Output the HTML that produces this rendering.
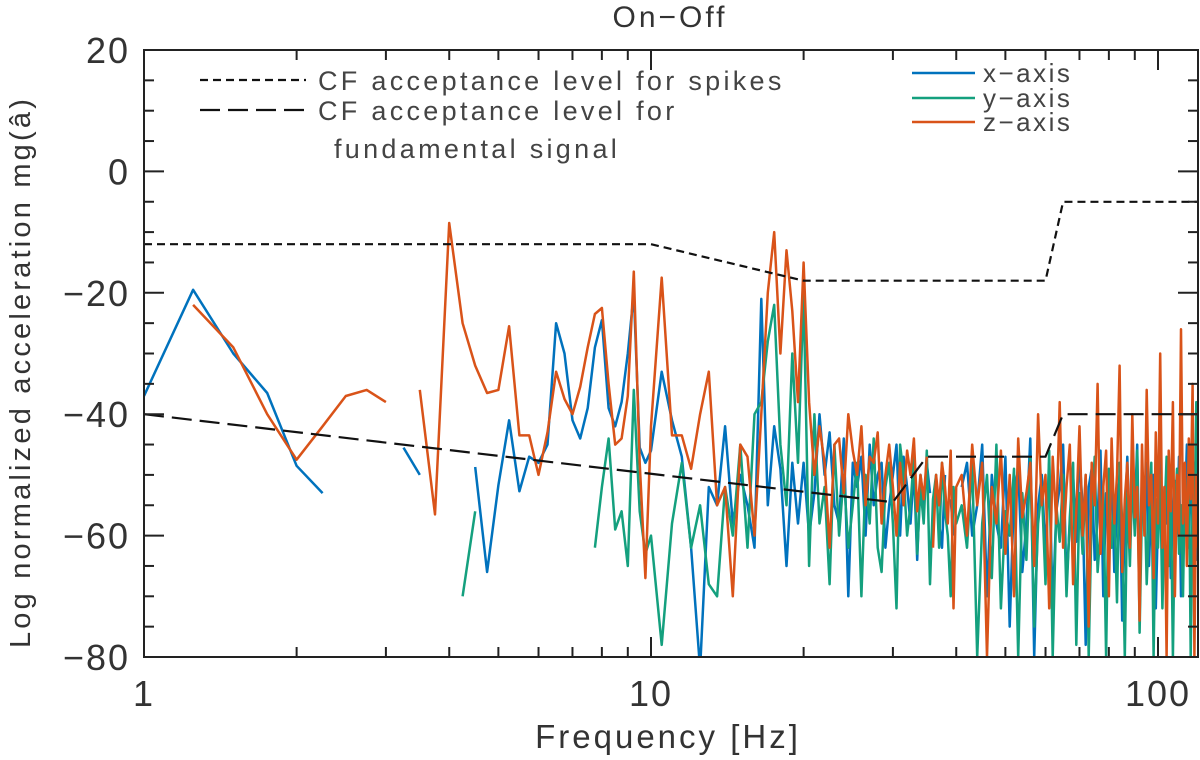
<!DOCTYPE html>
<html><head><meta charset="utf-8"><style>
html,body{margin:0;padding:0;background:#fff;}
svg{display:block;font-family:"Liberation Sans",sans-serif;}
</style></head><body>
<svg id="chart" width="1200" height="760" viewBox="0 0 1200 760">
<defs><clipPath id="clip"><rect x="144" y="50" width="1054" height="607"/></clipPath></defs>
<text x="670" y="27" text-anchor="middle" font-size="30" letter-spacing="3" fill="#333">On−Off</text>
<g id="series" clip-path="url(#clip)"></g>
<rect x="144" y="50" width="1054" height="607" fill="none" stroke="#222" stroke-width="2"/>
<g id="axes"></g>
<text x="668" y="748" text-anchor="middle" font-size="33" letter-spacing="3" fill="#333">Frequency [Hz]</text>
<text transform="translate(30,372) rotate(-90)" text-anchor="middle" font-size="29" letter-spacing="3.2" fill="#333">Log normalized acceleration mg(â)</text>
<g>
<line x1="200" y1="80" x2="306" y2="80" stroke="#111" stroke-width="2.2" stroke-dasharray="8,5"/>
<text x="318" y="90" font-size="27" letter-spacing="3.3" fill="#444">CF acceptance level for spikes</text>
<line x1="200" y1="110" x2="306" y2="110" stroke="#111" stroke-width="2.2" stroke-dasharray="20,8"/>
<text x="318" y="120" font-size="27" letter-spacing="3.3" fill="#444">CF acceptance level for</text>
<text x="334" y="158" font-size="27" letter-spacing="3.3" fill="#444">fundamental signal</text>
<line x1="912" y1="73" x2="975" y2="73" stroke="#0072BD" stroke-width="2.5"/>
<text x="983" y="82" font-size="26" letter-spacing="2.5" fill="#444">x−axis</text>
<line x1="912" y1="98" x2="975" y2="98" stroke="#14A07E" stroke-width="2.5"/>
<text x="983" y="107" font-size="26" letter-spacing="2.5" fill="#444">y−axis</text>
<line x1="912" y1="122" x2="975" y2="122" stroke="#D95319" stroke-width="2.5"/>
<text x="983" y="131" font-size="26" letter-spacing="2.5" fill="#444">z−axis</text>
</g>
</svg>
<script>
const freqLow = []; for (let f = 1; f <= 10.001; f += 0.25) freqLow.push(+f.toFixed(2));
const freqMid = []; for (let f = 10.5; f <= 40.001; f += 0.5) freqMid.push(+f.toFixed(2));
const freqHigh = []; for (let f = 41; f <= 120; f += 1) freqHigh.push(f);
const freqs = freqLow.concat(freqMid, freqHigh);

const xAxisLow = [-37,-19.5,-30,-36.5,-48.5,-53,null,null,null,-45.5,-50,null,null,null,-48.7,-66,-51.7,-41,-52.7,-47,-48,-45,-25,-30,-41,-44,-39,-29,-24.5,-39,-42,-38,-30,-20,-45.5,-48,-46];
const xAxisMid = [-33,-41,-47,-62,-82,-52,-55,-42,-58,-50,-55,-62,-21,-55,-42,-49,-65,-48,-58,-48,-60,-53,-40,-50,-43,-55,-58,-44,-70,-48,-52,-47,-60,-45,-55,-50,-48,-62,-55,-50,-45,-60,-47,-52,-58,-49,-64,-50,-55,-48,-53,null,null,-58,-62,-50,null,-54,-60,null];
const xAxisHigh = [-52,-48,-60,-55,-45,-70,-50,-58,-62,-47,-75,-53,-49,-66,-58,-44,-80,-55,-50,-63,-48,-72,-56,-52,-45,-68,-58,-50,-61,-47,-55,-78,-52,-49,-64,-57,-46,-70,-53,-60,-48,-66,-55,-50,-74,-58,-47,-62,-52,-56,-45,-69,-51,-59,-48,-65,-54,-50,-72,-57,-46,-63,-52,-58,-49,-67,-55,-51,-60,-47,-70,-53,-56,-45,-62,-50,-58,-48,-64,-52];

const yAxisLow = [null,null,null,null,null,null,null,null,null,null,null,null,null,-70,-56,null,null,null,null,null,null,null,null,null,null,null,null,-62,-52,-44,-59,-56,-65,-36,-56,-63,-60];
const yAxisMid = [-78,-58,-48,-62,-55,-68,-70,-52,-60,-45,-62,-40,-38,-28,-22,-45,-55,-30,-48,-20,-65,-40,-58,-52,-68,-45,-60,-50,-62,-55,-48,-70,-50,-58,-44,-62,-66,-52,-48,-58,-72,-45,-50,-60,-55,-47,-63,-52,-58,-46,-68,-54,-50,-62,-48,-56,-60,-70,-52,-58];
const yAxisHigh = [-55,-62,-48,-80,-58,-50,-67,-45,-72,-56,-60,-49,-80,-53,-64,-47,-75,-58,-52,-68,-46,-80,-55,-61,-50,-70,-57,-48,-78,-53,-63,-50,-80,-56,-47,-66,-59,-52,-80,-49,-62,-55,-71,-48,-58,-80,-53,-65,-50,-60,-46,-76,-55,-51,-68,-58,-48,-80,-54,-62,-50,-72,-57,-47,-65,-52,-80,-56,-49,-63,-55,-70,-51,-59,-46,-80,-54,-61,-38,-58];

const zAxisLow = [null,-22,-29,-40,-47.5,-42,-37,-36,-38,null,-36,-56.5,-8.5,-25,-32,-36.5,-36,-25.5,-43.5,-43.5,-50,-43,-33,-37.5,-40,-35.5,-29,-23.5,-22.5,-35,-45,-44,-37,-16.5,-48,-67,-42];
const zAxisMid = [-17.5,-43.5,-43.5,-49,-40,-33,-55,-52,-70,-45,-47,-60,-40,-20,-10,-30,-13,-23,-38,-15,-38,-50,-42,-48,-62,-45,-44,-53,-40,-46,-50,-42,-55,-47,-48,-43,-58,-50,-45,-52,-60,-48,-55,-46,-50,-44,-56,-50,-54,-47,null,-62,-50,-55,-48,-52,-58,-46,-72,-52];
const zAxisHigh = [-50,-60,-45,-55,-48,-80,-52,-58,-46,-63,-50,-70,-44,-57,-53,-48,-65,-40,-55,-50,-72,-47,-58,-38,-62,-52,-45,-68,-56,-42,-60,-50,-75,-48,-55,-35,-63,-52,-46,-70,-44,-58,-50,-32,-66,-54,-48,-62,-40,-57,-52,-74,-45,-60,-36,-55,-50,-67,-43,-58,-30,-62,-52,-80,-46,-56,-38,-70,-50,-60,-26,-58,-48,-65,-44,-54,-35,-80,-50,-62];

const spikeFreq = [1,10,20,60,65,120];
const spikeLevel = [-12,-12,-18,-18,-5,-5];
const fundFreq = [1,30,35,60,65,120];
const fundLevel = [-40,-54.5,-47,-47,-40,-40];

const yTicks = [20,0,-20,-40,-60,-80];
const xTicks = [1,10,100];

const NS = 'http://www.w3.org/2000/svg';
const X = f => 144 + 507 * Math.log10(f);
const Y = v => 50 + (20 - v) * 6.07;
const gS = document.getElementById('series');
const gA = document.getElementById('axes');

function drawSeries(vals, color, name) {
  let d = '', pen = false;
  for (let i = 0; i < freqs.length; i++) {
    const v = vals[i];
    if (v === null || v === undefined) { pen = false; continue; }
    d += (pen ? 'L' : 'M') + X(freqs[i]).toFixed(1) + ',' + Y(v).toFixed(1);
    pen = true;
  }
  const p = document.createElementNS(NS, 'path');
  p.setAttribute('d', d);
  p.setAttribute('fill', 'none');
  p.setAttribute('stroke', color);
  p.setAttribute('stroke-width', '2.5');
  p.setAttribute('stroke-linejoin', 'round');
  
  
  gS.appendChild(p);
}
drawSeries(xAxisLow.concat(xAxisMid, xAxisHigh), '#0072BD', 'x-axis-series');
drawSeries(yAxisLow.concat(yAxisMid, yAxisHigh), '#14A07E', 'y-axis-series');
drawSeries(zAxisLow.concat(zAxisMid, zAxisHigh), '#D95319', 'z-axis-series');

function drawLevel(fs, vs, dash, name) {
  let d = '';
  fs.forEach((f, i) => { d += (i ? 'L' : 'M') + X(f).toFixed(1) + ',' + Y(vs[i]).toFixed(1); });
  const p = document.createElementNS(NS, 'path');
  p.setAttribute('d', d);
  p.setAttribute('fill', 'none');
  p.setAttribute('stroke', '#111');
  p.setAttribute('stroke-width', '2.2');
  p.setAttribute('stroke-dasharray', dash);
  
  
  gS.appendChild(p);
}
drawLevel(spikeFreq, spikeLevel, '8,5', 'spikes-acceptance-line');
drawLevel(fundFreq, fundLevel, '20,8', 'fundamental-acceptance-line');

function line(x1, y1, x2, y2, name) {
  const l = document.createElementNS(NS, 'line');
  l.setAttribute('x1', x1); l.setAttribute('y1', y1);
  l.setAttribute('x2', x2); l.setAttribute('y2', y2);
  l.setAttribute('stroke', '#222'); l.setAttribute('stroke-width', '2');
  
  
  gA.appendChild(l);
}
function label(x, y, t, anchor, name) {
  const e = document.createElementNS(NS, 'text');
  e.setAttribute('x', x); e.setAttribute('y', y);
  e.setAttribute('text-anchor', anchor);
  e.setAttribute('font-size', '36');
  e.setAttribute('letter-spacing', '2');
  e.setAttribute('fill', '#333');
  e.textContent = t;
  
  
  gA.appendChild(e);
}
for (let v = 20; v >= -80; v -= 5) {
  const major = yTicks.includes(v);
  const len = major ? 20 : 10;
  line(144, Y(v), 144 + len, Y(v), 'y-tick');
  line(1198, Y(v), 1198 - len, Y(v), 'y-tick-right');
}
yTicks.forEach(v => label(130, Y(v) + 13, v === 0 ? '0' : String(v).replace('-', '−'), 'end', 'y-tick-label'));
for (let dec = 1; dec <= 100; dec *= 10) {
  for (let k = 1; k <= 9; k++) {
    const f = dec * k;
    if (f > 120) break;
    const len = k === 1 ? 20 : 10;
    line(X(f), 657, X(f), 657 - len, 'x-tick');
    line(X(f), 50, X(f), 50 + len, 'x-tick-top');
  }
}
xTicks.forEach(f => label(X(f), 706, String(f), 'middle', 'x-tick-label'));
</script>
</body></html>
